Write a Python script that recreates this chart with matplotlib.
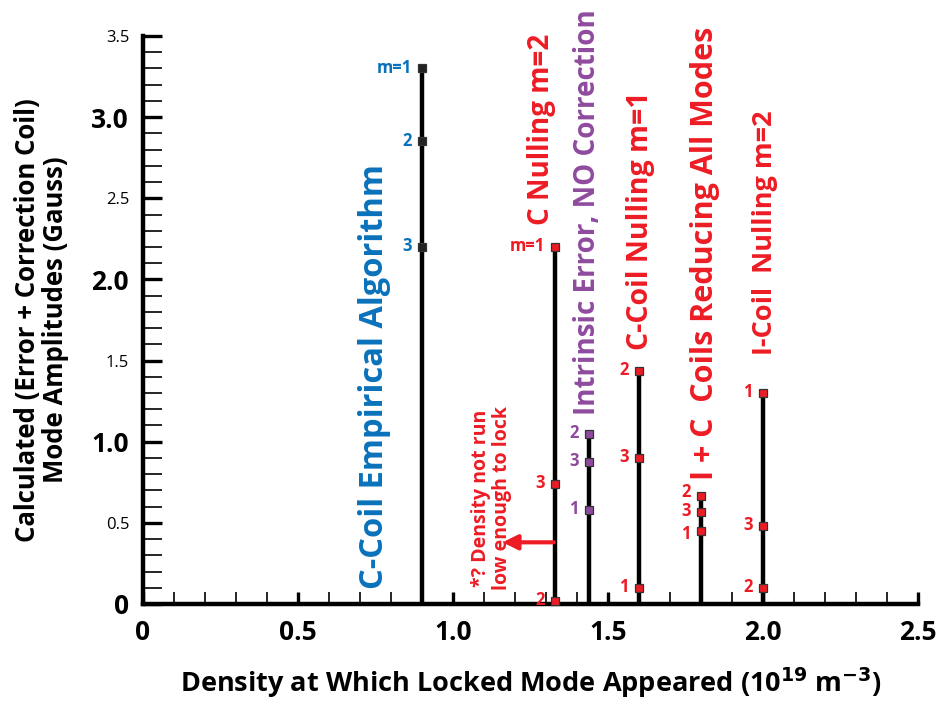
import matplotlib
matplotlib.use('Agg')
import matplotlib.pyplot as plt
from matplotlib.ticker import MultipleLocator

plt.rcParams['font.family'] = ['Open Sans', 'DejaVu Sans']

# data
densities = [0.90, 1.33, 1.44, 1.60, 1.80, 2.00]
mode1 = [3.30, 2.20, 0.58, 0.10, 0.45, 1.30]
mode2 = [2.85, 0.02, 1.05, 1.435, 0.665, 0.10]
mode3 = [2.20, 0.74, 0.875, 0.90, 0.567, 0.48]
mode1_text = ['m=1', 'm=1', '1', '1', '1', '1']
titles = ['C-Coil Empirical Algorithm', 'C Nulling m=2', 'Intrinsic Error, NO Correction',
          'C-Coil Nulling m=1', 'I + C  Coils Reducing All Modes', 'I-Coil  Nulling m=2']

blue = '#0a72bb'
red = '#ed1c24'
purple = '#8f4a9e'
colors = [blue, red, purple, red, red, red]
marker_fill = ['#222222', red, purple, red, red, red]

# where the rotated titles sit (x, bottom y, size)
title_pos = [(0.748, 0.09, 23.5), (1.287, 2.335, 20), (1.435, 1.165, 20),
             (1.606, 1.565, 20.5), (1.813, 0.764, 22), (2.006, 1.534, 19.5)]

fig = plt.figure(figsize=(9.36, 7.06), dpi=100)
ax = fig.add_axes([0.1528, 0.1445, 0.828, 0.8045])

for i, x in enumerate(densities):
    vals = [mode1[i], mode2[i], mode3[i]]
    txts = [mode1_text[i], '2', '3']
    ax.plot([x, x], [0, max(vals)], color='black', lw=3.2, solid_capstyle='butt', zorder=3,
            clip_on=False)
    ax.plot([x] * 3, vals, ls='none', marker='s', ms=5.5, mfc=marker_fill[i],
            mec='#333333', mew=0.9, zorder=4, clip_on=False)
    for v, t in zip(vals, txts):
        # spread labels of crowded markers a little apart
        dy = 0.5
        others = [o for o in vals if o != v]
        if any(0 < v - o < 0.12 for o in others) and not any(0 < o - v < 0.12 for o in others):
            dy += 2.5
        if any(0 < o - v < 0.12 for o in others) and not any(0 < v - o < 0.12 for o in others):
            dy -= 2.5
        ax.annotate(t, (x, v), xytext=(-7.5, dy), textcoords='offset points',
                    ha='right', va='center', color=colors[i], fontsize=12,
                    fontweight='bold')
    tx, ty, fs = title_pos[i]
    ax.text(tx, ty, titles[i], rotation=90, ha='center', va='bottom',
            color=colors[i], fontsize=fs, fontweight='bold')

# note about the C nulling shot
arrow_end = 1.16
ax.annotate('', xy=(arrow_end, 0.38), xytext=(densities[1] - 0.005, 0.38),
            arrowprops=dict(arrowstyle='-|>', color=red, lw=3, mutation_scale=22,
                            shrinkA=0, shrinkB=0))
ax.text(1.124, 0.086, '*? Density not run\nlow enough to lock', rotation=90,
        ha='center', va='bottom', color=red, fontsize=14, fontweight='bold',
        multialignment='center', linespacing=1.05)

ax.set_xlim(0, 2.5)
ax.set_ylim(0, 3.5)
for s in ['top', 'right']:
    ax.spines[s].set_visible(False)
for s in ['left', 'bottom']:
    ax.spines[s].set_linewidth(3.2)

ax.xaxis.set_major_locator(MultipleLocator(0.5))
ax.xaxis.set_minor_locator(MultipleLocator(0.1))
ax.yaxis.set_major_locator(MultipleLocator(0.5))
ax.yaxis.set_minor_locator(MultipleLocator(0.1))
ax.tick_params(axis='y', which='major', direction='in', length=14, width=2.4, pad=10)
ax.tick_params(axis='y', which='minor', direction='in', length=14, width=1.2)
ax.tick_params(axis='x', which='major', direction='in', length=9, width=2.4, pad=11)
ax.tick_params(axis='x', which='minor', direction='in', length=9, width=1.2)

ax.set_xticks([0, 0.5, 1.0, 1.5, 2.0, 2.5])
ax.set_xticklabels(['0', '0.5', '1.0', '1.5', '2.0', '2.5'], fontsize=19, fontweight='bold')

ylabels = ['0', '0.5', '1.0', '1.5', '2.0', '2.5', '3.0', '3.5']
ax.set_yticks([0, 0.5, 1.0, 1.5, 2.0, 2.5, 3.0, 3.5])
ax.set_yticklabels(ylabels)
for k, lab in enumerate(ax.get_yticklabels()):
    if k % 2 == 0:
        lab.set_fontsize(19)
        lab.set_fontweight('bold')
    else:
        lab.set_fontsize(12)

ax.set_xlabel('Density at Which Locked Mode Appeared (10$^{\\mathbf{19}}$ m$^{\\mathbf{-3}}$)',
              fontsize=19.5, fontweight='bold', labelpad=14)
ax.set_ylabel('Calculated (Error + Correction Coil)\nMode Amplitudes (Gauss)',
              fontsize=18.5, fontweight='bold', labelpad=16, linespacing=1.05)

fig.savefig('out.png', dpi=100)
